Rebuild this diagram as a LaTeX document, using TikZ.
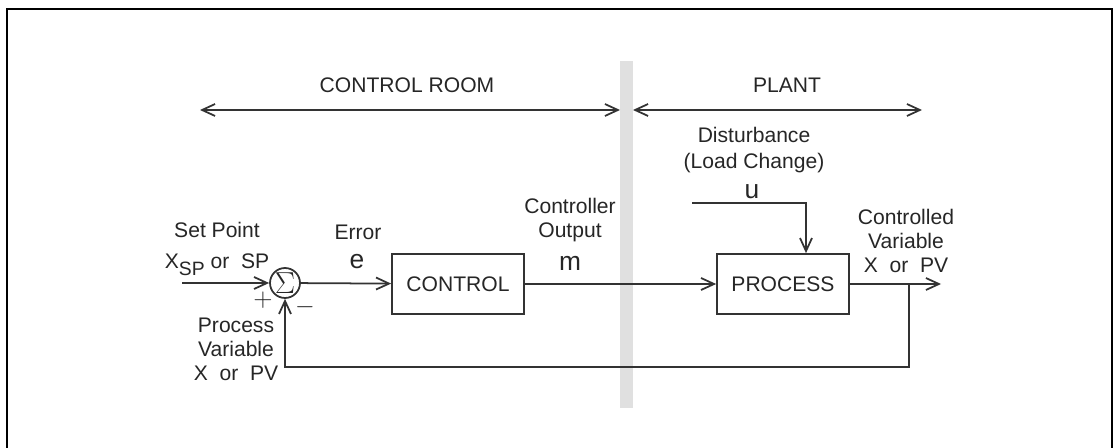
\documentclass[tikz,border=0pt]{standalone}
\usepackage{fontspec}
\setmainfont{Liberation Sans}
\usetikzlibrary{arrows.meta}

\begin{document}
\begin{tikzpicture}[x=0.02cm,y=-0.02cm,>={Straight Barb[length=2.6mm,width=2.4mm]},line width=1pt,
  every node/.style={font=\fontsize{12}{13.6}\selectfont,text=black!85},
  blk/.style={draw=black!80,minimum width=2.64cm,minimum height=1.2cm},
  sym/.style={font=\fontsize{15}{16}\selectfont},
  wire/.style={draw=black!80}]
\useasboundingbox (0,0) rectangle (1115,448);
% frame
\draw[line width=1.4pt] (7,448) -- (7,9) -- (1112,9) -- (1112,448);
% wall between the two areas
\fill[black!12] (620,61) rectangle (633,408);

% 1. areas
\coordinate (crL) at (200,110); \coordinate (crR) at (620,110);
\coordinate (plL) at (633,110); \coordinate (plR) at (922,110);
\draw[wire,<->] (crL) -- (crR);
\draw[wire,<->] (plL) -- (plR);
\node (room) at (407,85) {CONTROL ROOM};
\node (plant) at (787,85) {PLANT};

% 2. blocks
\node[draw=black!80,circle,minimum size=0.6cm,inner sep=0pt,font=\fontsize{18}{19}\selectfont] (sum) at (285,283) {$\Sigma$};
\node[blk] (ctrl) at (458,284) {CONTROL};
\node[blk] (proc) at (783,284) {PROCESS};

% 3. signals
\coordinate (in) at (182,283);
\coordinate (out) at (941,284);
\coordinate (tap) at (909,284);
\coordinate (fb) at (909,367);
\coordinate (dist) at (692,203);
\draw[wire,->] (in) -- (sum);
\draw[wire,->] (sum) -- (ctrl);
\draw[wire,->] (ctrl) -- (proc);
\draw[wire,->] (proc) -- (out);
\draw[wire,->] (tap) -- (fb) -| (sum);
\draw[wire,->] (dist) -| ([xshift=0.46cm]proc.north);

% 4. labels
\node (sp) at (217,230) {Set Point};
\node (xsp) at (217,265) {X\raisebox{-0.6ex}{\fontsize{11}{12}\selectfont SP} or\ \ SP};
\node[font=\fontsize{14}{15}\selectfont] (plus) at (263,300) {$+$};
\node[font=\fontsize{14}{15}\selectfont] (minus) at (305,307) {$-$};
\node[align=center] (pv) at (236,349) {Process\\Variable\\X\ \ or\ \ PV};
\node (err) at (358,232) {Error};
\node[sym] (e) at (357,262) {e};
\node[align=center] (co) at (570,220) {Controller\\Output};
\node[sym] (m) at (570,263) {m};
\node[align=center,font=\fontsize{12}{14.7}\selectfont] (dst) at (754,150) {Disturbance\\(Load Change)};
\node[sym] (u) at (752,192) {u};
\node[align=center] (cv) at (906,241) {Controlled\\Variable\\X\ \ or\ \ PV};
\end{tikzpicture}
\end{document}
